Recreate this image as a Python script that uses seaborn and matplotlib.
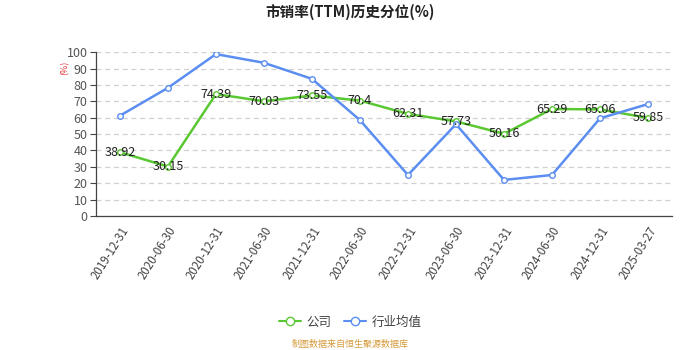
import matplotlib
matplotlib.use("Agg")
import matplotlib.pyplot as plt
import seaborn as sns
import pandas as pd
from matplotlib.lines import Line2D

dates = ["2019-12-31", "2020-06-30", "2020-12-31", "2021-06-30", "2021-12-31", "2022-06-30",
         "2022-12-31", "2023-06-30", "2023-12-31", "2024-06-30", "2024-12-31", "2025-03-27"]
company = [38.92, 30.15, 74.39, 70.03, 73.55, 70.4, 62.31, 57.73, 50.16, 65.29, 65.06, 59.85]
industry = [61.2, 78.2, 98.8, 93.5, 83.7, 58.5, 25.0, 56.0, 22.0, 25.0, 59.6, 68.3]
yticks = list(range(0, 101, 10))

sns.set_theme(style="white")
plt.rcParams['font.family'] = ['Noto Sans CJK SC', 'DejaVu Sans']

GREEN = "#5ac832"
BLUE = "#5b8ef0"

df = pd.DataFrame({"pos": list(range(len(dates))) * 2,
                   "value": company + industry,
                   "series": ["公司"] * len(dates) + ["行业均值"] * len(dates)})

fig = plt.figure(figsize=(7, 3.5), dpi=100)
ax = fig.add_axes([0.137, 0.383, 0.823, 0.468])

sns.lineplot(data=df, x="pos", y="value", hue="series", palette={"公司": GREEN, "行业均值": BLUE},
             marker="o", markersize=4, markerfacecolor="white", markeredgewidth=1.0,
             linewidth=1.8, ax=ax, legend=False, zorder=3)
for ln, c in zip(ax.lines, [GREEN, BLUE]):
    ln.set_markeredgecolor(c)

for i, v in enumerate(company):
    ax.text(i, v, f"{v:g}", ha="center", va="center", fontsize=9, color="#222222", zorder=5)

ax.set_xlim(-0.5, len(dates) - 0.5)
ax.set_ylim(0, 100)
ax.set_yticks(yticks)
ax.set_yticklabels([str(t) for t in yticks], fontsize=9, color="#555555")
ax.yaxis.grid(True, linestyle=(0, (4, 3)), color="#d0d0d0", linewidth=0.9)
ax.xaxis.grid(False)
ax.set_xticks(range(len(dates)))
ax.set_xticklabels(dates, rotation=58, ha="right", rotation_mode="anchor", fontsize=8.3, color="#444444")
ax.set_xticks([i - 0.5 for i in range(len(dates) + 1)], minor=True)
ax.tick_params(axis="x", which="major", length=0, pad=6)
ax.tick_params(axis="x", which="minor", length=4, color="#444444", width=0.8)
ax.tick_params(axis="y", length=4, color="#444444", width=0.8, left=True, pad=2)
ax.set_xlabel("")
ax.set_ylabel("")
for s in ["top", "right"]:
    ax.spines[s].set_visible(False)
for s in ["left", "bottom"]:
    ax.spines[s].set_color("#444444")
    ax.spines[s].set_linewidth(0.9)

fig.text(0.5, 0.965, "市销率(TTM)历史分位(%)", ha="center", va="center", fontsize=10.5, fontweight="bold", color="#222222")
fig.text(0.093, 0.805, "(%)", ha="center", va="center", fontsize=6.5, color="#e03030", rotation=90)

handles = [Line2D([0], [0], color=GREEN, marker="o", markerfacecolor="white", markeredgecolor=GREEN, markersize=6, linewidth=1.5),
           Line2D([0], [0], color=BLUE, marker="o", markerfacecolor="white", markeredgecolor=BLUE, markersize=6, linewidth=1.5)]
fig.legend(handles, ["公司", "行业均值"], loc="center", bbox_to_anchor=(0.5, 0.08), ncol=2, frameon=False,
           fontsize=9, handlelength=1.8, columnspacing=1.0, handletextpad=0.4, labelcolor="#444444")
fig.text(0.5, 0.015, "制图数据来自恒生聚源数据库", ha="center", va="center", fontsize=6.5, color="#d49a3a")

fig.savefig("out.png", dpi=100)
